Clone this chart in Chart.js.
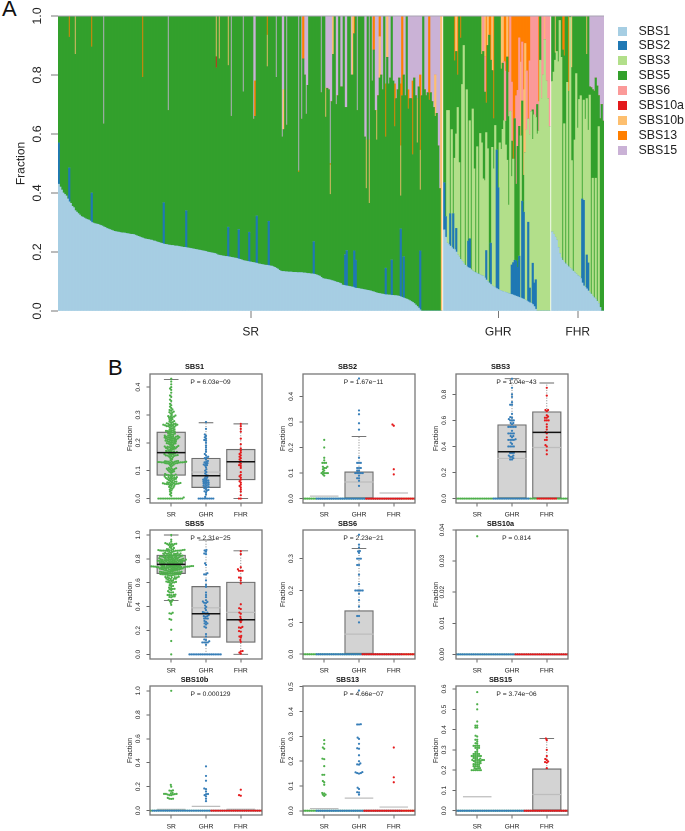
<!DOCTYPE html>
<html>
<head>
<meta charset="utf-8">
<script src="https://cdn.jsdelivr.net/npm/chart.js@4"></script>
<style>
body { margin: 0; background: #fff; font-family: 'Liberation Sans', Arial, sans-serif; color: #222; }
#page { position: relative; width: 685px; height: 831px; overflow: hidden; }
canvas { position: absolute; filter: blur(0.3px); }
.letter { position: absolute; font-size: 22px; line-height: 22px; color: #111; }
.key { position: absolute; left: 617.5px; width: 80px; height: 15px; font-size: 12.4px; line-height: 15px; padding-left: 21px; box-sizing: border-box; }
.key i { position: absolute; left: 0; top: 3px; width: 9px; height: 9px; }
</style>
</head>
<body>
<div id="page">
  <div class="letter" style="left:2px;top:-2px">A</div>
  <div class="letter" style="left:108px;top:357px">B</div>
  <canvas id="stack" width="685" height="345" style="left:0;top:0"></canvas>
</div>
<script>
// sample fractions, one value per bar, in the order of the top barplot
const sbs1SR = [
  .43,.42,.41,.40,.395,.39,.38,.37,.365,.355,
  .35,.34,.335,.33,.325,.32,.318,.315,.312,.31,
  .308,.305,.30,.298,.296,.295,.294,.292,.29,.288,
  .285,.283,.28,.278,.276,.274,.272,.27,.269,.268,
  .267,.266,.265,.265,.264,.263,.262,.261,.26,.26,
  .259,.257,.255,.253,.251,.249,.247,.245,.244,.243,
  .242,.241,.24,.238,.237,.235,.233,.232,.23,.229,
  .227,.226,.225,.224,.223,.222,.222,.221,.22,.22,
  .219,.218,.217,.216,.216,.215,.214,.213,.212,.211,
  .21,.209,.208,.207,.206,.205,.204,.203,.202,.20,
  .199,.198,.197,.196,.195,.193,.19,.189,.188,.187,
  .186,.185,.185,.184,.183,.182,.181,.18,.179,.178,
  .176,.175,.173,.171,.17,.169,.168,.167,.166,.165,
  .164,.163,.162,.16,.159,.158,.157,.156,.155,.155,
  .154,.153,.152,.15,.148,.145,.142,.138,.135,.134,
  .134,.133,.133,.132,.132,.132,.131,.131,.131,.13,
  .13,.13,.13,.129,.129,.128,.127,.127,.126,.126,
  .125,.124,.122,.12,.118,.114,.11,.109,.108,.107,
  .106,.105,.103,.102,.10,.098,.097,.095,.093,.088,
  .087,.086,.085,.084,.083,.082,.081,.079,.077,.077,
  .076,.075,.074,.073,.072,.071,.07,.069,.068,.066,
  .065,.063,.061,.06,.059,.058,.057,.056,.055,.055,
  .054,.054,.053,.053,.052,.052,.051,.05,.048,.046,
  .044,.042,.04,.038,.035,.032,.029,.025,.02,.015,
  .01,.004,0,0,0,0,0,0,0,0,
  0,0,0,0,0,0];
const sbs5SR = [
  .43,.58,.59,.60,.605,.61,.62,.443,.635,.645,
  .65,.53,.665,.67,.675,.68,.682,.685,.688,.69,
  .692,.695,.495,.702,.704,.705,.706,.708,.71,.712,
  .349,.717,.72,.722,.724,.726,.728,.73,.731,.732,
  .733,.734,.735,.735,.736,.737,.738,.739,.74,.74,
  .741,.743,.745,.747,.749,.751,.545,.755,.756,.757,
  .758,.759,.76,.762,.763,.765,.767,.768,.77,.771,
  .633,.774,.775,.456,.777,.778,.778,.779,.78,.78,
  .781,.782,.783,.784,.784,.66,.786,.787,.788,.789,
  .79,.791,.792,.793,.794,.795,.796,.797,.798,.80,
  .801,.802,.803,.804,.805,.631,.81,.666,.812,.813,
  .814,.815,.815,.548,.817,.478,.819,.82,.821,.822,
  .724,.825,.827,.572,.83,.831,.832,.733,.834,.835,
  .486,.497,.678,.84,.841,.842,.843,.844,.845,.673,
  .696,.847,.848,.85,.852,.647,.858,.862,.865,.456,
  .481,.867,.497,.868,.868,.868,.869,.869,.869,.87,
  .34,.87,.52,.726,.671,.539,.638,.873,.874,.874,
  .765,.876,.878,.88,.882,.626,.89,.891,.549,.648,
  .644,.29,.607,.768,.90,.602,.633,.905,.667,.672,
  .913,.499,.485,.916,.917,.718,.719,.736,.828,.603,
  .924,.925,.926,.927,.518,.344,.93,.296,.932,.714,
  .82,.617,.519,.67,.731,.742,.693,.944,.445,.805,
  .716,.736,.827,.727,.573,.668,.699,.74,.112,.684,
  .616,.688,.96,.647,.685,.688,.501,.765,.71,.555,
  .75,.206,.73,1.0,.75,.73,.74,.715,.74,.71,
  .69,.66,.67,.56,.415,0];
// the rarer signatures are listed as [bar, value], all other bars are 0
const sbs2SR = [[0,.14],[7,.115],[22,.10],[70,.14],[85,.125],[113,.10],[120,.10],[127,.10],[132,.16],[140,.15],[170,.11],[191,.105],[192,.12],[197,.125],[198,.095],[218,.09],[222,.12],[228,.23],[230,.14],[241,.20]];
const sbs10aSR = [[105,.038]];
const sbs10bSR = [[11,.13],[105,.138],[107,.145],[113,.168],[139,.107],[150,.135],[178,.098],[181,.10],[183,.13],[196,.2],[205,.165],[207,.215],[212,.10],[214,.14],[219,.14],[228,.17],[239,.15],[241,.135],[251,.14],[255,1.0]];
const sbs13SR = [[7,.072],[22,.105],[56,.208],[131,.12],[139,.065],[160,.005],[163,.145],[181,.005],[197,.06],[210,.115],[214,.07],[218,.18],[224,.145],[228,.21],[229,.27],[233,.065],[236,.25],[241,.255],[247,.285]];
const sbs15SR = [[30,.366],[73,.32],[115,.34],[123,.257],[130,.35],[131,.22],[145,.208],[149,.41],[150,.25],[152,.37],[160,.525],[162,.35],[164,.2],[165,.333],[166,.235],[175,.26],[178,.245],[179,.245],[180,.25],[181,.50],[182,.29],[185,.30],[186,.27],[188,.24],[189,.24],[191,.31],[192,.31],[195,.2],[199,.32],[204,.41],[205,.42],[207,.42],[209,.22],[211,.32],[212,.32],[213,.27],[215,.2],[216,.25],[218,.23],[220,.23],[221,.21],[223,.22],[224,.23],[225,.28],[226,.25],[227,.21],[228,.23],[230,.2],[231,.27],[233,.25],[234,.28],[235,.28],[236,.22],[237,.21],[238,.27],[239,.28],[240,.24],[241,.2],[242,.27],[244,.25],[245,.27],[246,.26],[248,.26],[249,.29],[250,.31],[251,.2],[252,.33],[253,.44],[254,.585]];

const sbs1GHR = [.275,.25,.23,.225,.22,.215,.21,.208,.20,.19,
  .183,.175,.168,.16,.155,.15,.147,.145,.14,.135,
  .132,.13,.127,.125,.122,.12,.118,.112,.105,.10,
  .095,.09,.085,.082,.079,.076,.073,.07,.068,.066,
  .065,.063,.061,.059,.057,.056,.054,.052,.05,.048,
  .046,.044,.042,.04,.037,.034,.031,.028,.026,.022,
  .015,.006,0,0,0,0,0,0,0,0,
  0];
const sbs3GHR = [0,0,.45,.455,0,.40,0,.31,.32,.50,
  .32,0,.60,.74,0,.60,0,.40,0,.55,
  .35,0,.43,0,.48,.45,.33,.33,.40,.45,
  0,0,.47,.40,.55,0,0,.50,.48,.55,
  .58,.50,.45,.30,.62,.30,.351,0,0,0,
  0,.55,0,0,.50,.58,.35,.52,.65,.42,
  .57,.55,.60,.61,.85,.72,.80,.92,.78,.72,
  .625];
const sbs5GHR = [.565,.68,.32,.32,.67,.385,.67,.33,.28,.11,
  .497,.75,.232,.10,.845,.25,.763,.355,.86,.315,
  .518,.87,.443,.875,.398,.30,.432,.30,.10,.35,
  .84,.62,.26,.17,.371,.454,.582,.43,.272,.224,
  0,.08,.35,.30,0,.12,0,.48,.26,.41,
  .44,0,.34,.125,0,0,0,0,0,.10,
  0,0,.10,0,.15,0,0,0,0,0,
  0];
const sbs2GHR = [[0,.16],[1,.07],[4,.11],[6,.12],[8,.08],[16,.09],[17,.10],[28,.10],[31,.14],[35,.47],[36,.345],[45,.10],[46,.11],[47,.12],[48,.12],[49,.10],[50,.14],[52,.33],[53,.295],[56,.27],[57,.05],[59,.14],[60,.08],[61,.10]];
const sbs6GHR = [[26,.12],[27,.12],[40,.20],[41,.17],[43,.15],[44,.323],[45,.20],[48,.30],[49,.19],[50,.30],[52,.20],[55,.20],[57,.25],[58,.324],[59,.318],[60,.335],[61,.344],[62,.30],[63,.10],[65,.28],[66,.20],[68,.22],[69,.28],[70,.375]];
const sbs10bGHR = [[8,.12],[25,.13],[27,.138],[29,.10],[32,.185],[38,.18],[39,.16],[42,.139],[51,.25],[53,.29],[54,.37],[67,.08]];
const sbs13GHR = [[7,.152],[9,.20],[11,.075],[28,.295],[30,.065],[31,.15],[33,.348],[40,.155],[41,.187],[43,.191],[45,.224],[46,.485],[47,.348],[48,.27],[49,.252],[50,.074],[51,.156],[52,.088],[53,.25],[54,.093],[55,.186],[56,.349],[57,.152],[63,.29]];

const sbs1FHR = [.268,.26,.25,.24,.215,.195,.18,.172,.165,.16,.155,.15,.145,.14,.135,.13,.125,.12,.117,.11,.095,.085,.08,.075,.068,.062,.057,.05,.045,.04,.033,.025,.012,0,0];
const sbs3FHR = [.51,.55,.60,.64,.63,.79,.68,0,.47,0,.62,0,.85,.37,0,.45,.68,.50,.60,.62,0,.34,.57,.53,.45,.67,0,.40,0,.41,0,.60,0,0,0];
const sbs5FHR = [.222,.19,.025,.12,.155,.015,.14,.713,.23,.84,.225,.595,.005,.315,.865,.42,.195,.38,.283,.27,.62,.285,.35,.15,.387,.028,.70,.30,.70,.34,.73,.105,.64,.70,.644];
const sbs2FHR = [[20,.285],[21,.29],[23,.115],[24,.095]];
const sbs10bFHR = [[2,.125],[13,.175],[23,.13]];
const sbs13FHR = [[7,.115],[8,.135],[11,.255]];
const sbs15FHR = [[25,.24],[26,.243],[27,.25],[28,.255],[29,.21],[30,.237],[31,.27],[32,.348],[33,.30],[34,.356]];

// boxplot numbers: q1, median, q3, whisker low, whisker high, mean
const sbs1Box = [[.083,.165,.239,0,.427,.165],[.039,.082,.145,0,.272,.095],[.067,.132,.177,0,.268,.132]];
const sbs2Box = [[0,0,0,0,0,.01],[0,0,.105,0,.243,.065],[0,0,0,0,0,.022]];
const sbs3Box = [[0,0,0,0,0,0],[0,.359,.567,0,.92,.308],[0,.508,.667,0,.887,.392]];
const sbs5Box = [[.676,.754,.832,.452,1,.75],[.142,.34,.57,0,.958,.39],[.10,.29,.606,0,.868,.352]];
const sbs6Box = [[0,0,0,0,0,0],[0,0,.137,0,.332,.063],[0,0,0,0,0,0]];
const sbs10aBox = [[0,0,0,0,0,0],[0,0,0,0,0,0],[0,0,0,0,0,0]];
const sbs10bBox = [[0,0,0,0,0,.011],[0,0,0,0,0,.036],[0,0,0,0,0,.012]];
const sbs13Box = [[0,0,0,0,0,.009],[0,0,0,0,0,.051],[0,0,0,0,0,.015]];
const sbs15Box = [[0,0,0,0,0,.069],[0,0,0,0,0,0],[0,0,.207,0,.356,.08]];

const groups = ['SR', 'GHR', 'FHR'];
const groupColors = ['#4daf4a', '#377eb8', '#e41a1c'];
const sigColors = {SBS1:'#a6cee3', SBS2:'#1f78b4', SBS3:'#b2df8a', SBS5:'#33a02c', SBS6:'#fb9a99', SBS10a:'#e31a1c', SBS10b:'#fdbf6f', SBS13:'#ff7f00', SBS15:'#cab2d6'};
const sizes = [sbs1SR.length, sbs1GHR.length, sbs1FHR.length];

Chart.defaults.font.family = "'Liberation Sans', Arial, sans-serif";
Chart.defaults.color = '#222';
Chart.defaults.animation = false;

function expand(pairs, n) {
  const out = new Array(n).fill(0);
  pairs.forEach(p => { out[p[0]] = p[1]; });
  return out;
}
// one signature as [SR, GHR, FHR]; sparse lists are opened up to full length
function sig(sr, ghr, fhr) {
  return [sr, ghr, fhr].map((g, i) => (g.length && Array.isArray(g[0]) || !g.length) ? expand(g, sizes[i]) : g);
}
const signatures = {
  SBS1: sig(sbs1SR, sbs1GHR, sbs1FHR),
  SBS2: sig(sbs2SR, sbs2GHR, sbs2FHR),
  SBS3: sig([], sbs3GHR, sbs3FHR),
  SBS5: sig(sbs5SR, sbs5GHR, sbs5FHR),
  SBS6: sig([], sbs6GHR, []),
  SBS10a: sig(sbs10aSR, [], []),
  SBS10b: sig(sbs10bSR, sbs10bGHR, sbs10bFHR),
  SBS13: sig(sbs13SR, sbs13GHR, sbs13FHR),
  SBS15: sig(sbs15SR, [], sbs15FHR)
};

// ---- panel A ----
const slotCount = sizes[0] + sizes[1] + sizes[2] + 2;
const stackTicks = [128, 293, 346];
new Chart(document.getElementById('stack'), {
  type: 'bar',
  data: {
    labels: new Array(slotCount).fill(''),
    datasets: Object.keys(signatures).map(name => ({
      label: name,
      data: [...signatures[name][0], null, ...signatures[name][1], null, ...signatures[name][2]],
      backgroundColor: sigColors[name],
      borderWidth: 0,
      categoryPercentage: 1,
      barPercentage: 1
    }))
  },
  options: {
    responsive: false,
    devicePixelRatio: 2, // slots are 1.5px wide, at 2x they land on whole pixels and leave no seams
    events: [],
    layout: {padding: {top: 16, right: 81, left: 0, bottom: 0}},
    plugins: {legend: {display: false}, tooltip: {enabled: false}},
    scales: {
      x: {
        stacked: true,
        afterFit: s => { s.height = 34; },
        afterBuildTicks: s => { s.ticks = stackTicks.map(v => ({value: v})); },
        border: {display: false},
        grid: {drawOnChartArea: false, offset: false, tickLength: 7, tickColor: '#777', tickWidth: 1},
        ticks: {autoSkip: false, maxRotation: 0, padding: 7, font: {size: 12}, callback: (v, i) => groups[i]}
      },
      y: {
        stacked: true,
        min: 0,
        max: 1,
        afterFit: s => { s.width = 58; },
        border: {display: false},
        grid: {
          z: 1,
          color: c => c.tick.value === 1 ? '#a9a3b3' : 'rgba(0,0,0,0)',
          tickColor: '#777',
          tickLength: 7
        },
        title: {display: true, text: 'Fraction', font: {size: 12}, padding: {top: 14, bottom: 0}},
        ticks: {stepSize: 0.2, minRotation: 90, maxRotation: 90, crossAlign: 'center', padding: 5, font: {size: 12.4}, callback: v => v.toFixed(1)}
      }
    }
  }
});

// html key next to panel A
const page = document.getElementById('page');
Object.keys(sigColors).forEach((name, i) => {
  const row = document.createElement('div');
  row.className = 'key';
  row.style.top = (23.5 + i * 14.9) + 'px';
  row.innerHTML = '<i style="background:' + sigColors[name] + '"></i>' + name;
  page.appendChild(row);
});

// ---- panel B ----
const note = {
  id: 'panelNote',
  afterDraw(chart, args, opts) {
    const a = chart.chartArea, ctx = chart.ctx;
    ctx.save();
    ctx.strokeStyle = '#777';
    ctx.lineWidth = 1.3;
    ctx.strokeRect(a.left, a.top, a.right - a.left, a.bottom - a.top);
    ctx.fillStyle = '#222';
    ctx.font = "6.7px 'Liberation Sans', Arial, sans-serif";
    ctx.textAlign = 'center';
    ctx.textBaseline = 'middle';
    ctx.fillText(opts.text, (a.left + a.right) / 2 + 4.5, a.top + 8);
    ctx.restore();
  }
};

// lays the points out like beeswarm: each point goes as near the centre as it can without touching
function swarm(values, center, pxPerY) {
  const d = 1.85, pxPerX = 35, placed = [];
  return [...values].sort((a, b) => a - b).map(v => {
    const y = v * pxPerY;
    const near = placed.filter(p => Math.abs(p.y - y) < d);
    const cands = [0];
    near.forEach(p => {
      const w = Math.sqrt(d * d - (p.y - y) * (p.y - y));
      cands.push(p.x - w, p.x + w);
    });
    cands.sort((a, b) => Math.abs(a) - Math.abs(b));
    const x = cands.find(c => near.every(p => (p.x - c) * (p.x - c) + (p.y - y) * (p.y - y) >= d * d - 1e-6));
    placed.push({x, y});
    return {x: center + x / pxPerX, y: v};
  });
}

function lineSet(points, color, width, dash, order) {
  return {type: 'scatter', showLine: true, data: points, borderColor: color, borderWidth: width, borderDash: dash, pointRadius: 0, order};
}

function panel(p) {
  const canvas = document.createElement('canvas');
  canvas.width = 140;
  canvas.height = 159;
  canvas.style.left = (p.left - 24) + 'px';
  canvas.style.top = (p.top - 14) + 'px';
  page.appendChild(canvas);

  const pxPerY = 129 / (p.yMax - p.yMin);
  const gap = {x: NaN, y: NaN};
  const boxes = [], medians = [], means = [], whiskers = [], caps = [];
  p.box.forEach((b, i) => {
    const x = i + 1;
    const [q1, med, q3, lo, hi, mean] = b;
    if (q3 > q1) boxes.push({x, y: [q1, q3]});
    if (med > 0) medians.push({x: x - 0.41, y: med}, {x: x + 0.41, y: med}, gap);
    if (mean > 0) means.push({x: x - 0.41, y: mean}, {x: x + 0.41, y: mean}, gap);
    if (hi > q3) {
      whiskers.push({x, y: q3}, {x, y: hi}, gap);
      caps.push({x: x - 0.21, y: hi}, {x: x + 0.21, y: hi}, gap);
    }
    if (lo < q1) {
      whiskers.push({x, y: lo}, {x, y: q1}, gap);
      caps.push({x: x - 0.21, y: lo}, {x: x + 0.21, y: lo}, gap);
    }
  });

  const datasets = [
    {type: 'bar', data: boxes, backgroundColor: '#d3d3d3', borderColor: '#6e6e6e', borderWidth: 1.2, borderSkipped: false, barThickness: 28.7, grouped: false, order: 5},
    lineSet(means, '#bdbdbd', 1.2, [], 4),
    lineSet(whiskers, '#777', 0.9, [1, 1.6], 4),
    lineSet(caps, '#666', 0.9, [], 4)
  ];
  signatures[p.name].forEach((vals, i) => {
    datasets.push({
      type: 'scatter',
      data: swarm(vals, i + 1, pxPerY),
      backgroundColor: groupColors[i],
      pointRadius: 1.1,
      pointBorderWidth: 0,
      order: 3 - i / 10
    });
  });
  datasets.push(lineSet(medians, '#111', 1.5, [], 0));

  new Chart(canvas, {
    type: 'scatter',
    data: {datasets},
    plugins: [note],
    options: {
      responsive: false,
      devicePixelRatio: 2,
      events: [],
      layout: {padding: {right: 3}},
      plugins: {
        legend: {display: false},
        tooltip: {enabled: false},
        panelNote: {text: p.pValue},
        title: {display: true, text: p.name, color: '#111', font: {size: 7.3, weight: 'bold'}, padding: {top: p.titleTop, bottom: 14 - 8.76 - p.titleTop}}
      },
      scales: {
        x: {
          type: 'linear',
          offset: false,
          min: 0.39,
          max: 3.61,
          afterFit: s => { s.height = 16; },
          afterBuildTicks: s => { s.ticks = [1, 2, 3].map(v => ({value: v})); },
          border: {display: false},
          grid: {drawOnChartArea: false, offset: false, tickLength: 3.5, tickColor: '#666'},
          ticks: {padding: 4, autoSkip: false, maxRotation: 0, font: {size: 6.7}, callback: v => groups[v - 1]}
        },
        y: {
          min: p.yMin,
          max: p.yMax,
          afterFit: s => { s.width = 24; },
          afterBuildTicks: s => { s.ticks = p.yTicks.map(v => ({value: v})); },
          border: {display: false},
          grid: {drawOnChartArea: false, tickLength: 3.5, tickColor: '#666'},
          title: {display: true, text: 'Fraction', font: {size: 7}, padding: {top: 0, bottom: 0}},
          ticks: {minRotation: 90, maxRotation: 90, crossAlign: 'center', padding: 4, font: {size: 6.5}, callback: v => v.toFixed(p.digits)}
        }
      }
    }
  });
}

const columns = [150, 302.7, 455.7];
const rows = [374, 530, 686];
panel({name: 'SBS1', left: columns[0], top: rows[0], titleTop: 2.6, pValue: 'P = 6.03e\u221209', box: sbs1Box, yMin: -0.016, yMax: 0.447, yTicks: [0, .1, .2, .3, .4], digits: 1});
panel({name: 'SBS2', left: columns[1], top: rows[0], titleTop: 2.6, pValue: 'P = 1.67e\u221211', box: sbs2Box, yMin: -0.017, yMax: 0.4875, yTicks: [0, .1, .2, .3, .4], digits: 1});
panel({name: 'SBS3', left: columns[2], top: rows[0], titleTop: 2.6, pValue: 'P = 1.04e\u221243', box: sbs3Box, yMin: -0.034, yMax: 0.956, yTicks: [0, .2, .4, .6, .8], digits: 1});
panel({name: 'SBS5', left: columns[0], top: rows[1], titleTop: 3.6, pValue: 'P = 2.31e\u221225', box: sbs5Box, yMin: -0.039, yMax: 1.042, yTicks: [0, .2, .4, .6, .8, 1], digits: 1});
panel({name: 'SBS6', left: columns[1], top: rows[1], titleTop: 3.6, pValue: 'P = 2.23e\u221221', box: sbs6Box, yMin: -0.015, yMax: 0.39, yTicks: [0, .1, .2, .3], digits: 1});
panel({name: 'SBS10a', left: columns[2], top: rows[1], titleTop: 3.6, pValue: 'P = 0.814', box: sbs10aBox, yMin: -0.0015, yMax: 0.04, yTicks: [0, .01, .02, .03, .04], digits: 2});
panel({name: 'SBS10b', left: columns[0], top: rows[2], titleTop: 3.6, pValue: 'P = 0.000129', box: sbs10bBox, yMin: -0.036, yMax: 1.04, yTicks: [0, .2, .4, .6, .8, 1], digits: 1});
panel({name: 'SBS13', left: columns[1], top: rows[2], titleTop: 3.6, pValue: 'P = 4.66e\u221207', box: sbs13Box, yMin: -0.017, yMax: 0.503, yTicks: [0, .1, .2, .3, .4, .5], digits: 1});
panel({name: 'SBS15', left: columns[2], top: rows[2], titleTop: 3.6, pValue: 'P = 3.74e\u221206', box: sbs15Box, yMin: -0.021, yMax: 0.615, yTicks: [0, .1, .2, .3, .4, .5, .6], digits: 1});
</script>
</body>
</html>
